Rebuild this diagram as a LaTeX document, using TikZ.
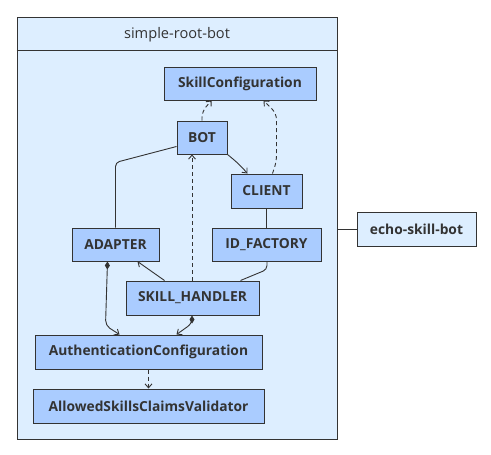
\documentclass[tikz,border=0pt]{standalone}
\usepackage{fontspec}
\setmainfont{Open Sans}
\usetikzlibrary{arrows.meta,calc}
\definecolor{nodefill}{RGB}{170,204,255}
\definecolor{contfill}{RGB}{221,238,255}
\definecolor{ink}{RGB}{51,51,51}
\tikzset{
  comp/.style={draw=ink, fill=nodefill, line width=1pt, inner sep=0pt, text=ink, font=\fontsize{13.8}{16}\selectfont\bfseries},
  ext/.style={comp, fill=contfill},
  conn/.style={draw=ink, line width=0.9pt},
  arr/.style={conn, -{Straight Barb[length=4pt,width=7pt]}},
  darr/.style={arr, dash pattern=on 4pt off 3pt},
  diam/.style={conn, {Diamond[length=8pt,width=5pt]}-{Straight Barb[length=4pt,width=7pt]}},
}
\begin{document}
\begin{tikzpicture}[x=1pt,y=-1pt]
\useasboundingbox (0,0) rectangle (491,455);
\node[draw=ink, fill=contfill, line width=1pt, minimum width=320, minimum height=422, inner sep=0pt] (root) at (177,228) {};
\draw[ink, line width=1pt] ($(root.north west)+(0,34)$) -- ($(root.north east)+(0,34)$);
\node[text=ink, font=\fontsize{14.6}{17}\selectfont] (title) at (177,34.5) {simple-root-bot};

\node[comp, minimum width=152, minimum height=33] (skillcfg) at (240,83.5) {SkillConfiguration};
\node[comp, minimum width=50, minimum height=33] (bot) at (202,137.5) {BOT};
\node[comp, minimum width=71, minimum height=34] (client) at (266.5,191) {CLIENT};
\node[comp, minimum width=87, minimum height=33] (adapter) at (115.5,244.5) {ADAPTER};
\node[comp, minimum width=109, minimum height=33] (idf) at (266.5,244.5) {ID\_FACTORY};
\node[comp, minimum width=133, minimum height=34] (sh) at (192.5,298) {SKILL\_HANDLER};
\node[comp, minimum width=227, minimum height=34] (auth) at (148.5,352) {AuthenticationConfiguration};
\node[comp, minimum width=231, minimum height=34] (allowed) at (148.5,406) {AllowedSkillsClaimsValidator};
\node[ext, minimum width=119, minimum height=34] (echo) at (416.5,229) {echo-skill-bot};

\coordinate (shtop) at ($(sh.north)+(-0.5,0)$);
\coordinate (botbot) at (shtop |- bot.south);

% connectors
\draw[darr, rounded corners=6pt] (bot.north) -- ++(0,-9) -- ($(skillcfg.south west)+(48,0)$);
\draw[darr, rounded corners=6pt] ($(client.north)+(6,0)$) -- ++(4,-12) -- ++(0,-48) -- ($(skillcfg.south west)+(100,0)$);
\draw[arr] (bot.south east) to[bend left=5] ($(client.north west)+(17,0)$);
\draw[conn, rounded corners=4pt] ($(bot.south west)+(0,-8)$) -- ($(adapter.north)+(0,-65)$) -- (adapter.north);
\draw[darr] (shtop) -- (botbot);
\draw[arr] ($(sh.north west)+(39,0)$) -- ($(adapter.south west)+(66,0)$);
\draw[conn, rounded corners=4pt] ($(idf.south)+(0.5,0)$) -- ++(0,8) -- ($(sh.north east)+(-19,0)$);
\draw[conn] (client.south) -- (idf.north);
\draw[diam, rounded corners=5pt] ($(adapter.south west)+(36,0)$) -- ++(-2,64) -- ($(auth.north west)+(85,0)$);
\draw[diam, rounded corners=5pt] ($(sh.south)+(-0.5,0)$) -- ++(0,8) -- ($(auth.north west)+(142,0)$);
\draw[darr] (auth.south) -- (allowed.north);
\draw[conn] (echo.west -| root.east) -- (echo.west);
\end{tikzpicture}
\end{document}
